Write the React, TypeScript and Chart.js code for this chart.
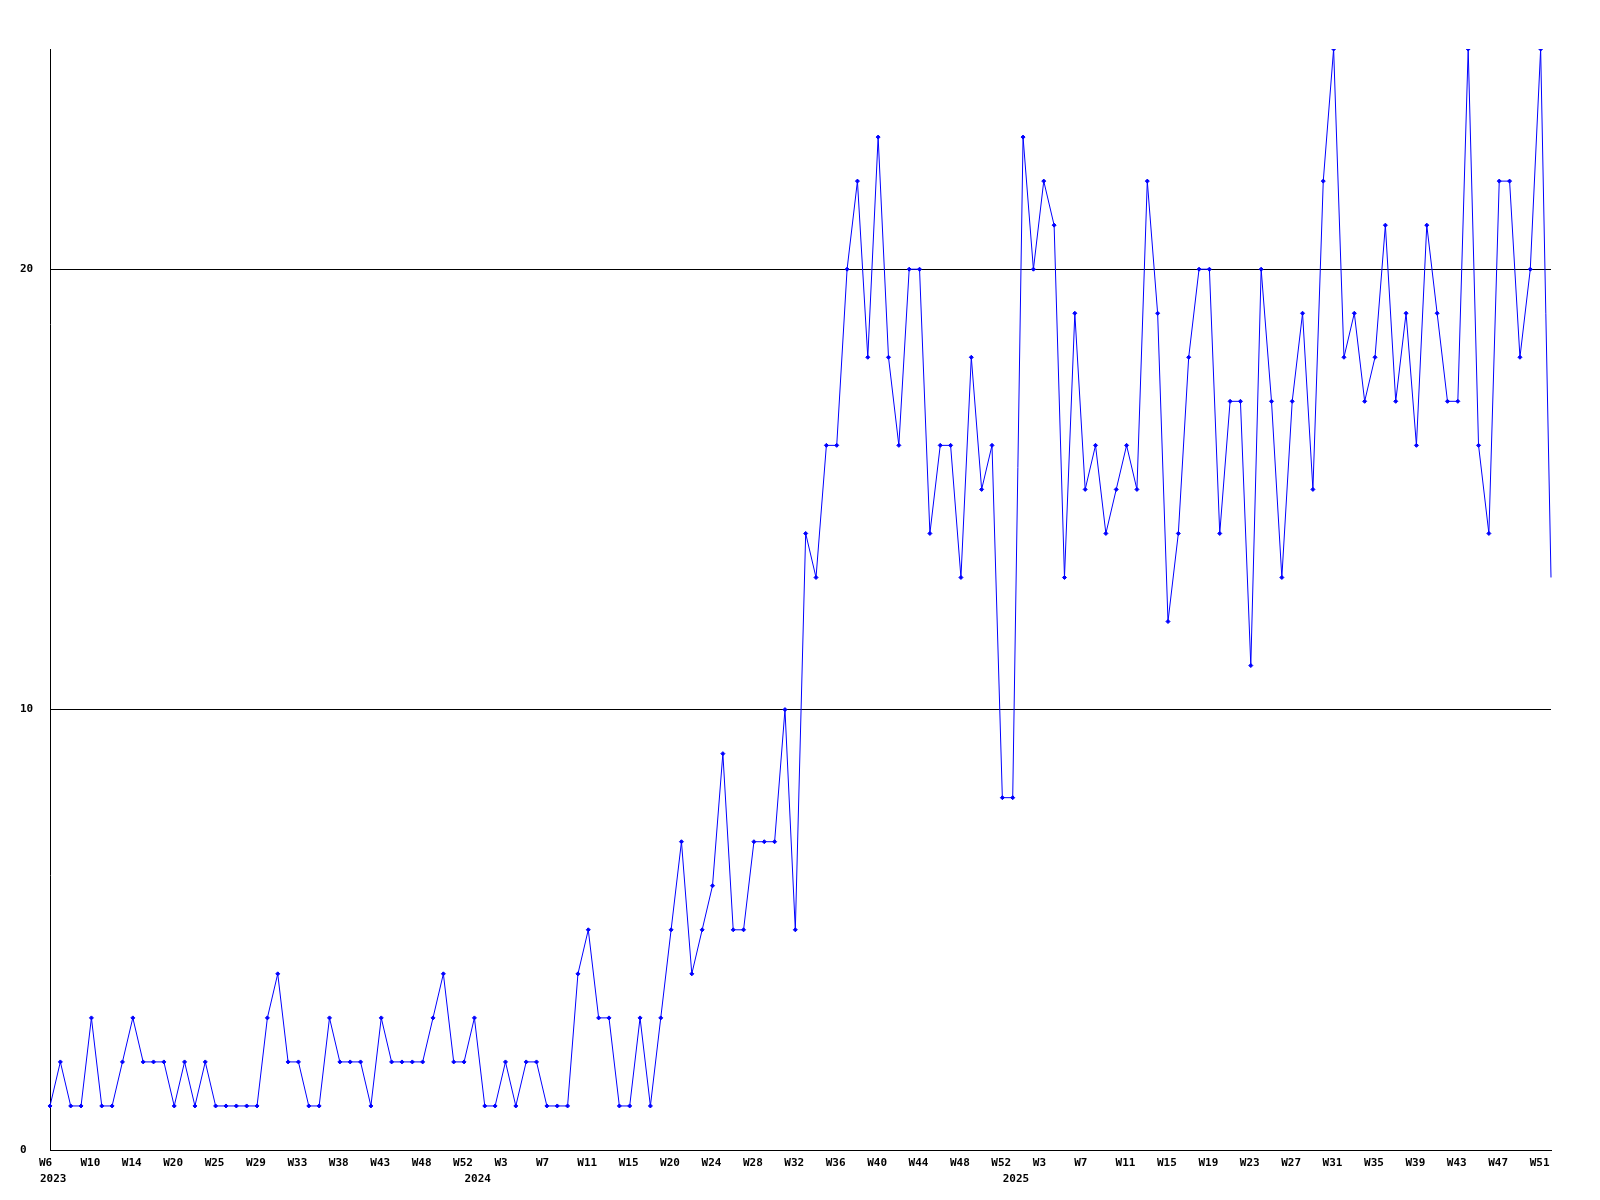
import React, { useEffect, useRef } from "react";
import { Chart, registerables } from "chart.js";

Chart.register(...registerables);

// Week categories (weeks without data are absent)
const weeks2023 = ["W6","W7","W8","W9","W10","W11","W12","W13","W14","W15","W17","W19","W20","W21","W22","W24","W25","W26","W27","W28","W29","W30","W31","W32","W33","W34","W35","W37","W38","W39","W40","W42","W43","W44","W45","W47","W48","W49","W50","W51","W52"];
const weeks2024 = ["W0","W1","W2","W3","W4","W5","W6","W7","W8","W9","W10","W11","W12","W13","W14","W15","W16","W17","W18","W20","W21","W22","W23","W24","W25","W26","W27","W28","W29","W30","W31","W32","W33","W34","W35","W36","W37","W38","W39","W40","W41","W42","W43","W44","W45","W46","W47","W48","W49","W50","W51","W52"];
const weeks2025 = ["W0","W1","W2","W3","W4","W5","W6","W7","W8","W9","W10","W11","W12","W13","W14","W15","W16","W17","W18","W19","W20","W21","W22","W23","W24","W25","W26","W27","W28","W29","W30","W31","W32","W33","W34","W35","W36","W37","W38","W39","W40","W41","W42","W43","W44","W45","W46","W47","W48","W49","W50","W51","W52"];
const years = ["2023", "2024", "2025"];

const values2023 = [1,2,1,1,3,1,1,2,3,2,2,2,1,2,1,2,1,1,1,1,1,3,4,2,2,1,1,3,2,2,2,1,3,2,2,2,2,3,4,2,2];
const values2024 = [3,1,1,2,1,2,2,1,1,1,4,5,3,3,1,1,3,1,3,5,7,4,5,6,9,5,5,7,7,7,10,5,14,13,16,16,20,22,18,23,18,16,20,20,14,16,16,13,18,15,16,8];
const values2025 = [8,23,20,22,21,13,19,15,16,14,15,16,15,22,19,12,14,18,20,20,14,17,17,11,20,17,13,17,19,15,22,25,18,19,17,18,21,17,19,16,21,19,17,17,25,16,14,22,22,18,20,25,13];

const yTicks = [0, 10, 20];
const yMax = 25;
const labelEvery = 4;

const FONT = 'bold 11px "DejaVu Sans Mono", "Liberation Mono", monospace';

export default function App() {
  const ref = useRef<HTMLCanvasElement | null>(null);

  useEffect(() => {
    if (!ref.current) return;
    const labels = [...weeks2023, ...weeks2024, ...weeks2025];
    const data = [...values2023, ...values2024, ...values2025];
    const yearStarts = [0, weeks2023.length, weeks2023.length + weeks2024.length];
    const radii = data.map((_, i) => (i === data.length - 1 ? 0 : 2));

    const xLabelPlugin = {
      id: "xLabels",
      afterDraw(chart: any) {
        const ctx = chart.ctx;
        const xs = chart.scales.x;
        const bottom = chart.chartArea.bottom;
        ctx.save();
        ctx.font = FONT;
        ctx.fillStyle = "#000";
        ctx.textAlign = "left";
        ctx.textBaseline = "alphabetic";
        labels.forEach((lab, i) => {
          if (i % labelEvery === 0) {
            ctx.fillText(lab, xs.getPixelForValue(i) - 11, bottom + 16);
          }
        });
        yearStarts.forEach((idx, k) => {
          ctx.fillText(years[k], xs.getPixelForValue(idx) - 10, bottom + 32);
        });
        ctx.restore();
      },
    };

    const chart = new Chart(ref.current, {
      type: "line",
      data: {
        labels,
        datasets: [
          {
            data,
            borderColor: "#0000ff",
            borderWidth: 1,
            backgroundColor: "#0000ff",
            pointStyle: "rectRot",
            pointRadius: radii,
            pointBorderWidth: 1,
            pointBorderColor: "#0000ff",
            pointBackgroundColor: "#0000ff",
            tension: 0,
            fill: false,
          },
        ],
      },
      options: {
        responsive: false,
        animation: false,
        devicePixelRatio: 1,
        layout: { padding: { left: 20, top: 49, right: 49, bottom: 0 } },
        plugins: { legend: { display: false }, tooltip: { enabled: false } },
        scales: {
          x: {
            type: "category",
            offset: false,
            grid: { display: false, drawTicks: false },
            border: { display: true, color: "#000", width: 1 },
            ticks: { display: false },
            afterFit: (s: any) => {
              s.height = 50;
            },
          },
          y: {
            min: 0,
            max: yMax,
            grid: { color: "#000", lineWidth: 1, drawTicks: false, tickLength: 0 },
            border: { display: true, color: "#000", width: 1 },
            ticks: {
              font: { family: '"DejaVu Sans Mono", monospace', size: 11, weight: "bold" },
              color: "#000",
              crossAlign: "far",
              padding: 0,
            },
            afterBuildTicks: (s: any) => {
              s.ticks = yTicks.map((v) => ({ value: v }));
            },
            afterFit: (s: any) => {
              s.width = 30;
            },
          },
        },
      },
      plugins: [xLabelPlugin],
    } as any);

    return () => chart.destroy();
  }, []);

  return (
    <div style={{ position: "fixed", left: 0, top: 0, width: 1600, height: 1200, background: "#fff" }}>
      <canvas ref={ref} width={1600} height={1200} style={{ width: 1600, height: 1200 }} />
    </div>
  );
}
